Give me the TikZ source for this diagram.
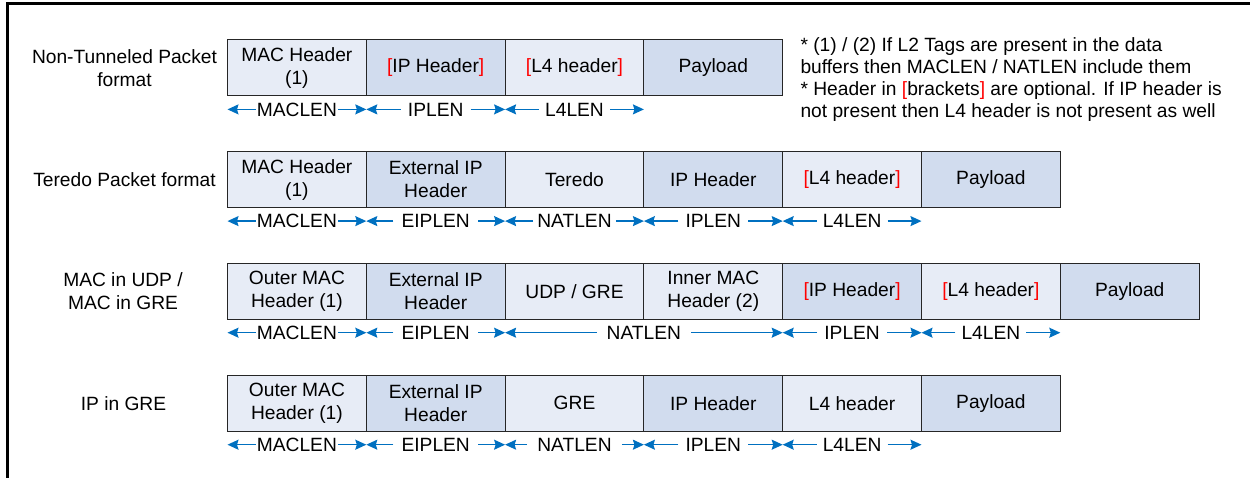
\documentclass[tikz,border=0pt]{standalone}
\usepackage{fontspec}
\setmainfont{Liberation Sans}
\usetikzlibrary{arrows.meta,calc}
\definecolor{lightfill}{RGB}{231,236,246}
\definecolor{darkfill}{RGB}{209,220,238}
\definecolor{dimblue}{RGB}{0,112,192}
\definecolor{optred}{RGB}{255,0,0}
\newcommand{\optL}{\textcolor{optred}{[}}
\newcommand{\optR}{\textcolor{optred}{]}}
\newcommand{\dimseg}[5]{%
  \node[dimlab, inner xsep=#5] (#1) at ($(#2.south west)!0.5!(#3.south east)+(0,13.7)$) {#4};
  \draw[dimarr] (#1.west) -- (#1.west -| #2.south west);
  \draw[dimarr] (#1.east) -- (#1.east -| #3.south east);}
\begin{document}
\begin{tikzpicture}[x=1pt,y=-1pt,
  font=\fontsize{19.2}{23}\selectfont,
  field/.style={draw=black!85, line width=1pt, minimum width=138.8pt, minimum height=55.7pt,
    inner sep=0pt, outer sep=0pt, align=center, anchor=north west},
  lt/.style={field, fill=lightfill},
  dk/.style={field, fill=darkfill},
  dimlab/.style={inner ysep=0pt, inner xsep=6pt},
  dimarr/.style={draw=dimblue, line width=1.3pt, -{Stealth[length=11pt,width=10pt,inset=1.5pt]}},
  rowlab/.style={align=center}]
\useasboundingbox (0,0) rectangle (1250,478);
\draw[line width=2.4pt] (7.5,478) -- (7.5,3.5) -- (1250,3.5);

% Row 1
\node[rowlab] (l1) at (124.5,67.9) {Non-Tunneled Packet\\format};
\node[lt] (r1a) at (227.5,40) {MAC Header\\(1)};
\node[dk] (r1b) at (r1a.north east) {\optL IP Header\optR};
\node[lt] (r1c) at (r1b.north east) {\optL L4 header\optR};
\node[dk] (r1d) at (r1c.north east) {Payload};
\dimseg{d1a}{r1a}{r1a}{MACLEN}{1pt}
\dimseg{d1b}{r1b}{r1b}{IPLEN}{7pt}
\dimseg{d1c}{r1c}{r1c}{L4LEN}{6pt}

\node[align=left, anchor=west, font=\fontsize{19.2}{21.7}\selectfont] (note) at (797,79.5)
  {* (1) / (2) If L2 Tags are present in the data\\
   buffers then MACLEN / NATLEN include them\\
   * Header in \optL brackets\optR{} are optional. If IP header is\\
   not present then L4 header is not present as well};

% Row 2
\node[rowlab] (l2) at (124.5,179.5) {Teredo Packet format};
\node[lt] (r2a) at (227.5,151.7) {MAC Header\\(1)};
\node[dk] (r2b) at (r2a.north east) {External IP\\Header};
\node[lt] (r2c) at (r2b.north east) {Teredo};
\node[dk] (r2d) at (r2c.north east) {IP Header};
\node[lt] (r2e) at (r2d.north east) {\optL L4 header\optR};
\node[dk] (r2f) at (r2e.north east) {Payload};
\dimseg{d2a}{r2a}{r2a}{MACLEN}{1pt}
\dimseg{d2b}{r2b}{r2b}{EIPLEN}{8pt}
\dimseg{d2c}{r2c}{r2c}{NATLEN}{4pt}
\dimseg{d2d}{r2d}{r2d}{IPLEN}{7pt}
\dimseg{d2e}{r2e}{r2e}{L4LEN}{6pt}

% Row 3
\node[rowlab] (l3) at (123,291.2) {MAC in UDP /\\MAC in GRE};
\node[lt] (r3a) at (227.5,263.3) {Outer MAC\\Header (1)};
\node[dk] (r3b) at (r3a.north east) {External IP\\Header};
\node[lt] (r3c) at (r3b.north east) {UDP / GRE};
\node[lt] (r3d) at (r3c.north east) {Inner MAC\\Header (2)};
\node[dk] (r3e) at (r3d.north east) {\optL IP Header\optR};
\node[lt] (r3f) at (r3e.north east) {\optL L4 header\optR};
\node[dk] (r3g) at (r3f.north east) {Payload};
\dimseg{d3a}{r3a}{r3a}{MACLEN}{1pt}
\dimseg{d3b}{r3b}{r3b}{EIPLEN}{8pt}
\dimseg{d3c}{r3c}{r3d}{NATLEN}{10pt}
\dimseg{d3e}{r3e}{r3e}{IPLEN}{7pt}
\dimseg{d3f}{r3f}{r3f}{L4LEN}{6pt}

% Row 4
\node[rowlab] (l4) at (123.5,403.2) {IP in GRE};
\node[lt] (r4a) at (227.5,375.3) {Outer MAC\\Header (1)};
\node[dk] (r4b) at (r4a.north east) {External IP\\Header};
\node[lt] (r4c) at (r4b.north east) {GRE};
\node[dk] (r4d) at (r4c.north east) {IP Header};
\node[lt] (r4e) at (r4d.north east) {L4 header};
\node[dk] (r4f) at (r4e.north east) {Payload};
\dimseg{d4a}{r4a}{r4a}{MACLEN}{1pt}
\dimseg{d4b}{r4b}{r4b}{EIPLEN}{8pt}
\dimseg{d4c}{r4c}{r4c}{NATLEN}{10pt}
\dimseg{d4d}{r4d}{r4d}{IPLEN}{7pt}
\dimseg{d4e}{r4e}{r4e}{L4LEN}{6pt}
\end{tikzpicture}
\end{document}
